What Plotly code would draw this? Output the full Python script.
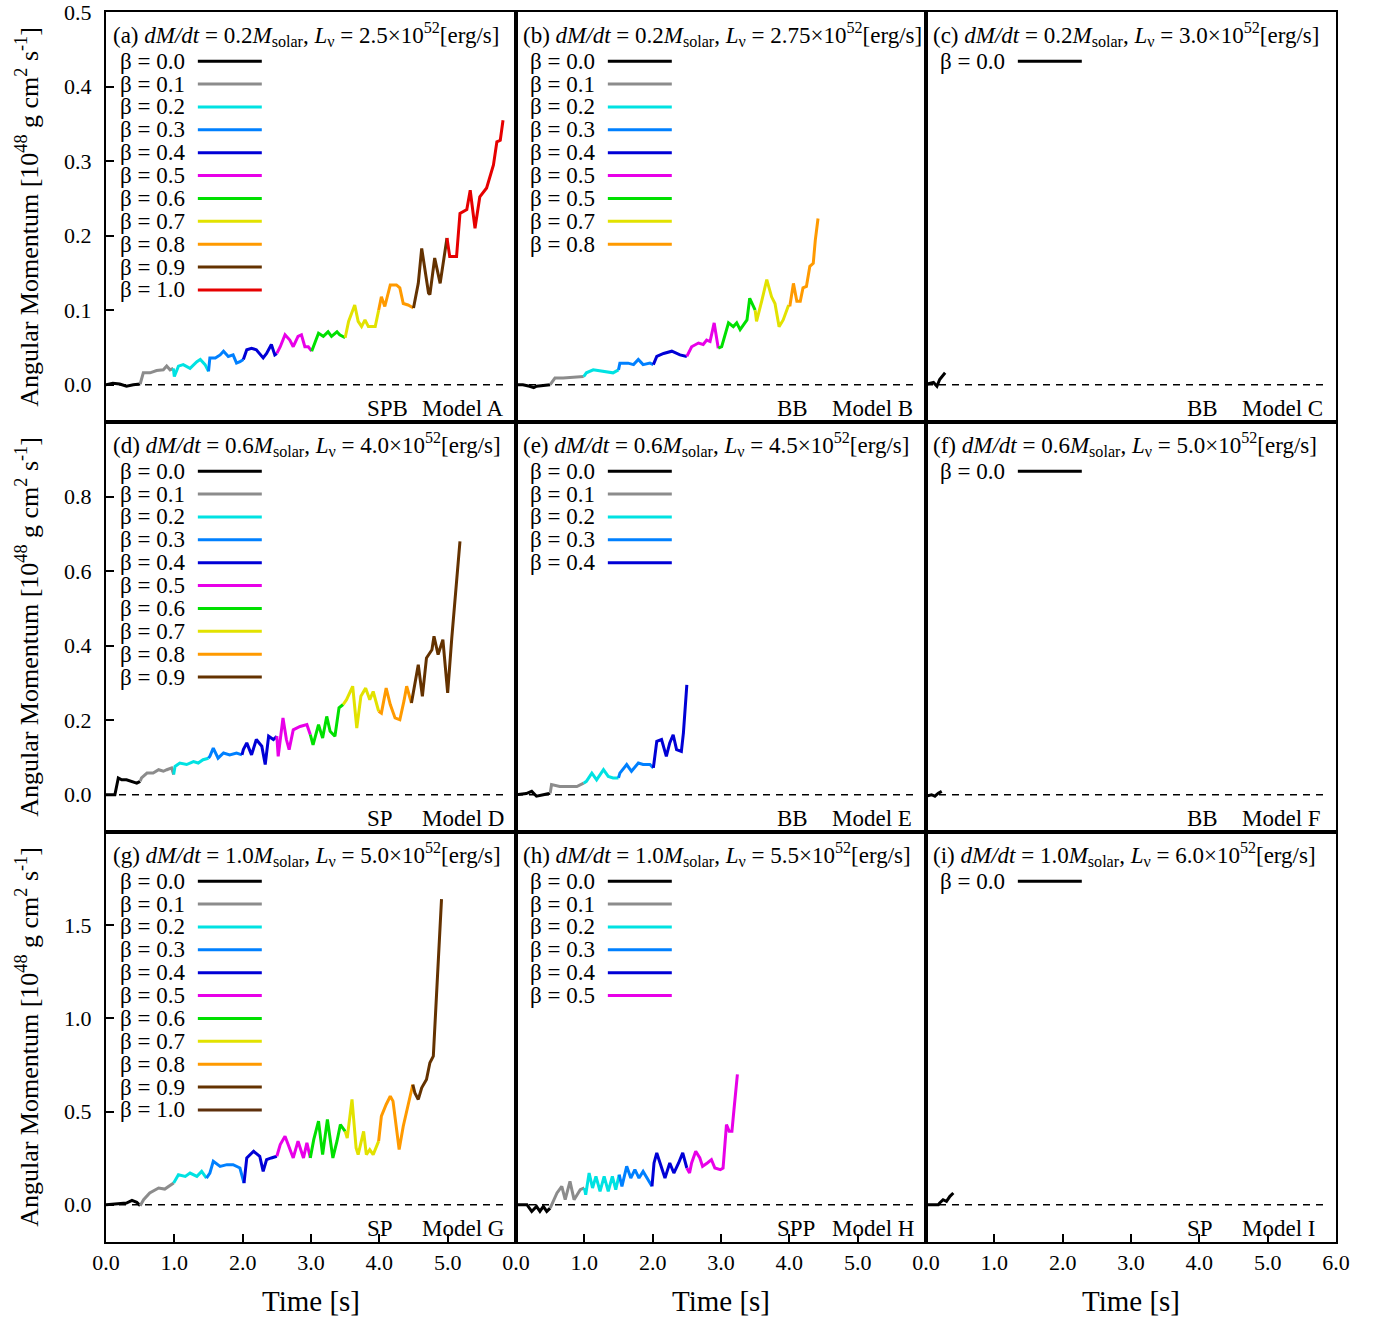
import plotly.graph_objects as go
from plotly.subplots import make_subplots

# ---------------- data (time [s], angular momentum [1e48 g cm^2 s^-1]) ----------------
A_T = [[0.0, 0.1, 0.2, 0.3, 0.4, 0.5],
       [0.546, 0.644, 0.741, 0.839, 0.888, 0.937, 0.985],
       [1.0, 1.06, 1.13, 1.23, 1.33, 1.38, 1.45, 1.50],
       [1.52, 1.60, 1.67, 1.72, 1.79, 1.86, 1.91, 1.96, 2.01],
       [2.06, 2.13, 2.20, 2.30, 2.35, 2.42, 2.47, 2.50],
       [2.55, 2.62, 2.69, 2.74, 2.81, 2.86, 2.91, 2.96, 3.01],
       [3.06, 3.11, 3.18, 3.25, 3.30, 3.38, 3.42, 3.50],
       [3.55, 3.64, 3.69, 3.74, 3.79, 3.84, 3.94, 3.99],
       [4.03, 4.08, 4.16, 4.25, 4.30, 4.35, 4.42, 4.50],
       [4.57, 4.62, 4.67, 4.72, 4.74, 4.81, 4.89, 4.99],
       [5.03, 5.13, 5.18, 5.28, 5.33, 5.40, 5.47, 5.57, 5.67, 5.72, 5.77, 5.81]]
A_L = [[0.0, 0.002, 0.001, -0.002, 0.0, 0.001],
       [0.016, 0.016, 0.019, 0.020, 0.025, 0.020, 0.022],
       [0.011, 0.025, 0.027, 0.022, 0.031, 0.034, 0.027, 0.018],
       [0.036, 0.036, 0.040, 0.045, 0.038, 0.040, 0.029, 0.031, 0.034],
       [0.047, 0.049, 0.047, 0.036, 0.042, 0.054, 0.040, 0.042],
       [0.051, 0.067, 0.060, 0.051, 0.065, 0.067, 0.051, 0.051, 0.045],
       [0.058, 0.069, 0.065, 0.071, 0.065, 0.071, 0.067, 0.063],
       [0.085, 0.107, 0.085, 0.078, 0.087, 0.078, 0.078, 0.100],
       [0.118, 0.105, 0.134, 0.134, 0.130, 0.109, 0.107, 0.103],
       [0.136, 0.183, 0.150, 0.123, 0.121, 0.170, 0.136, 0.197],
       [0.172, 0.172, 0.230, 0.235, 0.261, 0.210, 0.252, 0.264, 0.295, 0.326, 0.328, 0.355]]

B_T = [[0.0, 0.1, 0.2, 0.26, 0.3, 0.4, 0.5],
       [0.57, 0.69, 0.84, 0.99],
       [1.03, 1.13, 1.28, 1.42, 1.50],
       [1.52, 1.64, 1.72, 1.79, 1.86, 1.96, 2.01],
       [2.06, 2.16, 2.28, 2.40, 2.50],
       [2.57, 2.67, 2.74, 2.79, 2.84, 2.90, 2.96],
       [3.01, 3.11, 3.18, 3.23, 3.28, 3.38, 3.42, 3.50],
       [3.52, 3.60, 3.67, 3.74, 3.79, 3.85, 3.91, 3.99],
       [4.01, 4.06, 4.11, 4.16, 4.20, 4.25, 4.30, 4.35, 4.38, 4.42]]
B_L = [[0.0, 0.0, -0.002, -0.004, -0.002, -0.001, 0.0],
       [0.009, 0.009, 0.010, 0.011],
       [0.016, 0.020, 0.018, 0.016, 0.020],
       [0.029, 0.029, 0.027, 0.034, 0.027, 0.029, 0.027],
       [0.038, 0.042, 0.045, 0.040, 0.038],
       [0.051, 0.056, 0.054, 0.060, 0.058, 0.083, 0.049],
       [0.051, 0.083, 0.078, 0.083, 0.074, 0.087, 0.116, 0.100],
       [0.085, 0.114, 0.141, 0.118, 0.109, 0.078, 0.087, 0.107],
       [0.107, 0.136, 0.112, 0.112, 0.130, 0.132, 0.159, 0.163, 0.194, 0.223]]

C_T = [[0.0, 0.02, 0.11, 0.16, 0.20, 0.25, 0.28]]
C_L = [[0.0, 0.001, 0.003, -0.002, 0.007, 0.013, 0.016]]

D_T = [[0.0, 0.13, 0.18, 0.23, 0.30, 0.38, 0.45, 0.50],
       [0.52, 0.60, 0.69, 0.77, 0.84, 0.89, 0.96, 0.99],
       [1.01, 1.08, 1.18, 1.28, 1.35, 1.42, 1.50],
       [1.52, 1.57, 1.64, 1.72, 1.81, 1.91, 1.99],
       [2.01, 2.06, 2.13, 2.20, 2.28, 2.33, 2.38, 2.45, 2.50],
       [2.52, 2.59, 2.64, 2.68, 2.74, 2.84, 2.94, 2.99],
       [3.03, 3.11, 3.17, 3.23, 3.28, 3.35, 3.41, 3.47],
       [3.52, 3.61, 3.67, 3.73, 3.80, 3.86, 3.91, 3.99],
       [4.03, 4.10, 4.16, 4.23, 4.30, 4.36, 4.40, 4.47],
       [4.52, 4.57, 4.63, 4.69, 4.77, 4.80, 4.86, 4.93, 5.00, 5.06, 5.18]]
D_L = [[0.0, 0.0, 0.045, 0.040, 0.040, 0.036, 0.031, 0.036],
       [0.045, 0.058, 0.058, 0.067, 0.063, 0.067, 0.072, 0.054],
       [0.076, 0.085, 0.081, 0.089, 0.085, 0.094, 0.098],
       [0.103, 0.125, 0.098, 0.112, 0.107, 0.112, 0.107],
       [0.121, 0.139, 0.107, 0.148, 0.130, 0.081, 0.157, 0.148, 0.157],
       [0.103, 0.206, 0.148, 0.121, 0.174, 0.183, 0.188, 0.161],
       [0.134, 0.188, 0.152, 0.210, 0.170, 0.157, 0.233, 0.242],
       [0.255, 0.291, 0.179, 0.264, 0.286, 0.255, 0.277, 0.224],
       [0.219, 0.286, 0.242, 0.206, 0.201, 0.251, 0.291, 0.246],
       [0.300, 0.349, 0.264, 0.367, 0.389, 0.425, 0.376, 0.416, 0.273, 0.420, 0.680]]

E_T = [[0.0, 0.15, 0.23, 0.30, 0.40, 0.50],
       [0.52, 0.64, 0.77, 0.89, 0.99],
       [1.03, 1.11, 1.18, 1.28, 1.35, 1.42, 1.50],
       [1.52, 1.62, 1.69, 1.79, 1.86, 1.96, 2.01],
       [2.06, 2.13, 2.20, 2.25, 2.30, 2.35, 2.42, 2.45, 2.50]]
E_L = [[0.0, 0.003, 0.009, -0.004, 0.0, 0.004],
       [0.027, 0.022, 0.022, 0.022, 0.031],
       [0.036, 0.058, 0.040, 0.067, 0.049, 0.045, 0.045],
       [0.058, 0.081, 0.063, 0.085, 0.081, 0.081, 0.072],
       [0.143, 0.148, 0.103, 0.139, 0.161, 0.121, 0.116, 0.166, 0.295]]

F_T = [[0.0, 0.02, 0.08, 0.13, 0.18, 0.23]]
F_L = [[0.0, -0.003, 0.0, -0.004, 0.004, 0.009]]

G_T = [[0.0, 0.30, 0.38, 0.45, 0.50],
       [0.55, 0.64, 0.77, 0.86, 0.99],
       [1.06, 1.16, 1.23, 1.33, 1.40, 1.47],
       [1.52, 1.57, 1.67, 1.77, 1.86, 1.96, 2.02],
       [2.06, 2.16, 2.25, 2.30, 2.35, 2.42, 2.50],
       [2.55, 2.62, 2.67, 2.74, 2.81, 2.89, 2.94, 2.99],
       [3.04, 3.11, 3.17, 3.24, 3.32, 3.38, 3.43, 3.50],
       [3.53, 3.60, 3.66, 3.69, 3.77, 3.81, 3.86, 3.91, 3.99],
       [4.03, 4.10, 4.16, 4.20, 4.24, 4.29, 4.35, 4.42, 4.49],
       [4.52, 4.57, 4.62, 4.69, 4.74, 4.79, 4.81, 4.86, 4.90, 4.91]]
G_L = [[0.0, 0.009, 0.023, 0.013, -0.005],
       [0.027, 0.063, 0.090, 0.084, 0.116],
       [0.161, 0.152, 0.170, 0.152, 0.179, 0.143],
       [0.170, 0.233, 0.206, 0.215, 0.215, 0.197, 0.116],
       [0.251, 0.287, 0.260, 0.179, 0.242, 0.251, 0.260],
       [0.323, 0.367, 0.314, 0.251, 0.341, 0.251, 0.332, 0.251],
       [0.349, 0.448, 0.269, 0.457, 0.251, 0.341, 0.430, 0.394],
       [0.358, 0.565, 0.305, 0.269, 0.394, 0.269, 0.296, 0.269, 0.341],
       [0.475, 0.538, 0.582, 0.556, 0.439, 0.296, 0.421, 0.529, 0.645],
       [0.600, 0.565, 0.627, 0.672, 0.762, 0.797, 0.941, 1.299, 1.568, 1.640]]

H_T = [[0.0, 0.16, 0.23, 0.30, 0.35, 0.40, 0.45, 0.50],
       [0.52, 0.60, 0.67, 0.72, 0.79, 0.85, 0.94, 1.00],
       [1.02, 1.07, 1.12, 1.17, 1.23, 1.29, 1.35, 1.41, 1.46, 1.51],
       [1.55, 1.62, 1.68, 1.74, 1.80, 1.86, 1.92, 1.99],
       [2.02, 2.06, 2.12, 2.18, 2.25, 2.31, 2.38, 2.44, 2.50],
       [2.54, 2.57, 2.63, 2.69, 2.73, 2.80, 2.86, 2.91, 2.99, 3.03, 3.08, 3.12, 3.16, 3.19, 3.24]]
H_L = [[0.0, 0.0, -0.036, -0.009, -0.036, -0.009, -0.036, -0.018],
       [0.0, 0.063, 0.099, 0.027, 0.125, 0.027, 0.081, 0.090],
       [0.054, 0.170, 0.090, 0.152, 0.072, 0.152, 0.072, 0.152, 0.081, 0.161],
       [0.099, 0.206, 0.143, 0.188, 0.143, 0.179, 0.143, 0.099],
       [0.224, 0.278, 0.206, 0.143, 0.224, 0.170, 0.224, 0.278, 0.197],
       [0.170, 0.224, 0.287, 0.251, 0.206, 0.224, 0.242, 0.197, 0.188, 0.197, 0.430, 0.394, 0.394, 0.511, 0.699]]

I_T = [[0.0, 0.18, 0.20, 0.25, 0.30, 0.35, 0.40]]
I_L = [[0.0, 0.0, 0.009, 0.027, 0.018, 0.045, 0.063]]

PANEL_T = [A_T, B_T, C_T, D_T, E_T, F_T, G_T, H_T, I_T]
PANEL_L = [A_L, B_L, C_L, D_L, E_L, F_L, G_L, H_L, I_L]

PANEL_TAGS = ["(a)", "(b)", "(c)", "(d)", "(e)", "(f)", "(g)", "(h)", "(i)"]
DMDT = ["0.2", "0.2", "0.2", "0.6", "0.6", "0.6", "1.0", "1.0", "1.0"]
LNU = ["2.5", "2.75", "3.0", "4.0", "4.5", "5.0", "5.0", "5.5", "6.0"]
SHOCK_TYPES = ["SPB", "BB", "BB", "SP", "BB", "BB", "SP", "SPP", "SP"]
MODELS = ["Model A", "Model B", "Model C", "Model D", "Model E", "Model F",
          "Model G", "Model H", "Model I"]

BETA_LABELS = ["0.0", "0.1", "0.2", "0.3", "0.4", "0.5", "0.6", "0.7", "0.8", "0.9", "1.0"]
BETA_COLORS = ["#000000", "#8c8c8c", "#00e2e2", "#0080ff", "#0000d6", "#e800e8",
               "#00e000", "#e2e200", "#ff9a00", "#643200", "#e60000"]
G_BETA10_COLOR = "#5e300c"
B_LEGEND_LABELS = ["0.0", "0.1", "0.2", "0.3", "0.4", "0.5", "0.5", "0.7", "0.8"]

LEGEND_COUNTS = [11, 9, 1, 10, 5, 1, 11, 6, 1]

ROW_RANGES = [[-0.05, 0.5002], [-0.1, 1.0], [-0.2, 2.0]]
ROW_TICKS = [[0.0, 0.1, 0.2, 0.3, 0.4, 0.5], [0.0, 0.2, 0.4, 0.6, 0.8], [0.0, 0.5, 1.0, 1.5]]
X_TICKS_12 = [0, 1, 2, 3, 4, 5]
X_TICKS_3 = [0, 1, 2, 3, 4, 5, 6]
ZERO_LINE_END = 5.85

FONT = "Liberation Serif"
TXT = 23

fig = make_subplots(rows=3, cols=3, horizontal_spacing=0, vertical_spacing=0)

for p in range(9):
    r, c = p // 3 + 1, p % 3 + 1
    n = p + 1
    xa = "x" if n == 1 else f"x{n}"
    ya = "y" if n == 1 else f"y{n}"

    cnt = LEGEND_COUNTS[p]
    labels = B_LEGEND_LABELS if p == 1 else BETA_LABELS[:cnt]
    colors = BETA_COLORS[:cnt]
    if p == 6:
        colors = BETA_COLORS[:10] + [G_BETA10_COLOR]

    # zero reference line
    fig.add_trace(go.Scatter(x=[0, ZERO_LINE_END], y=[0, 0], mode="lines",
                             line=dict(color="black", width=1.3, dash="7px,6px"),
                             showlegend=False, hoverinfo="skip"), row=r, col=c)

    prev = None
    for k, (ts, ls) in enumerate(zip(PANEL_T[p], PANEL_L[p])):
        xs, ys = list(ts), list(ls)
        if prev is not None:
            xs = [prev[0]] + xs
            ys = [prev[1]] + ys
        fig.add_trace(go.Scatter(x=xs, y=ys, mode="lines",
                                 line=dict(color=colors[k], width=3),
                                 showlegend=False), row=r, col=c)
        prev = (ts[-1], ls[-1])

    head = (f"{PANEL_TAGS[p]} <i>dM/dt</i> = {DMDT[p]}<i>M</i><sub>solar</sub>, "
            f"<i>L</i><sub>ν</sub> = {LNU[p]}×10<sup>52</sup>[erg/s]")
    fig.add_annotation(xref=f"{xa} domain", yref=f"{ya} domain", x=0.012, y=0.944,
                       xanchor="left", yanchor="middle", text=head, showarrow=False,
                       font=dict(family=FONT, size=TXT, color="black"))
    for k in range(cnt):
        yy = 0.880 - k * 0.0558
        fig.add_annotation(xref=f"{xa} domain", yref=f"{ya} domain", x=0.03, y=yy,
                           xanchor="left", yanchor="middle", text=f"β = {labels[k]}",
                           showarrow=False, font=dict(family=FONT, size=TXT, color="black"))
        fig.add_shape(type="line", xref=f"{xa} domain", yref=f"{ya} domain",
                      x0=0.224, x1=0.380, y0=yy, y1=yy,
                      line=dict(color=colors[k], width=3))
    fig.add_annotation(xref=f"{xa} domain", yref=f"{ya} domain", x=0.632, y=0.032,
                       xanchor="left", yanchor="middle", text=SHOCK_TYPES[p],
                       showarrow=False, font=dict(family=FONT, size=TXT, color="black"))
    fig.add_annotation(xref=f"{xa} domain", yref=f"{ya} domain", x=0.766, y=0.032,
                       xanchor="left", yanchor="middle", text=MODELS[p],
                       showarrow=False, font=dict(family=FONT, size=TXT, color="black"))

    xt = X_TICKS_3 if c == 3 else X_TICKS_12
    fig.update_xaxes(range=[0, 6], showline=True, mirror=True, linecolor="black", linewidth=2,
                     showgrid=False, zeroline=False, automargin=False,
                     tickvals=xt, ticktext=[f"{v:.1f}" for v in xt],
                     ticks="inside" if r == 3 else "", ticklen=8, tickwidth=1.5, tickcolor="black",
                     showticklabels=(r == 3), ticklabeloverflow="allow",
                     tickfont=dict(family=FONT, size=22, color="black"),
                     title=dict(text="Time [s]" if r == 3 else "", standoff=18,
                                font=dict(family=FONT, size=29, color="black")),
                     row=r, col=c)
    yt = ROW_TICKS[r - 1]
    fig.update_yaxes(range=ROW_RANGES[r - 1], showline=True, mirror=True, linecolor="black",
                     linewidth=2, showgrid=False, zeroline=False, automargin=False,
                     tickvals=yt, ticktext=[f"{v:.1f}" for v in yt],
                     ticks="inside" if c == 1 else "", ticklen=8, tickwidth=1.5, tickcolor="black",
                     showticklabels=(c == 1), ticklabelstandoff=8, ticklabeloverflow="allow",
                     tickfont=dict(family=FONT, size=22, color="black"),
                     title=dict(text="Angular Momentum [10<sup>48</sup> g cm<sup>2</sup> s<sup>-1</sup>]" if c == 1 else "",
                                standoff=18, font=dict(family=FONT, size=26, color="black")),
                     row=r, col=c)

fig.update_layout(width=1380, height=1317, margin=dict(l=106, r=44, t=12, b=75),
                  plot_bgcolor="white", paper_bgcolor="white", showlegend=False,
                  font=dict(family=FONT, color="black"))

fig.write_html("out.html", config={"displayModeBar": False},
               post_script="document.body.style.margin='0';document.body.style.overflow='hidden';")
